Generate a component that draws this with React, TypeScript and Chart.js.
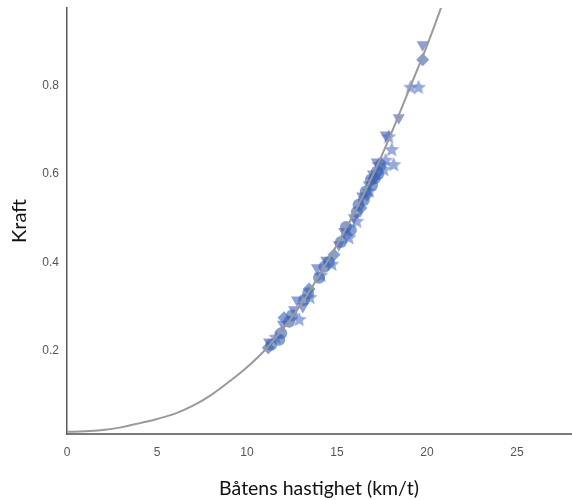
import React, { useEffect, useRef } from "react";
import { Chart, registerables } from "chart.js";

Chart.register(...registerables);

// Fitted curve
const curveV = [0, 1, 2, 3, 4, 5, 6, 7, 8, 9, 10, 11, 12, 13, 14, 15, 16, 17, 18, 19, 20, 21];
const curveF = [0.017, 0.018, 0.021, 0.027, 0.036, 0.046, 0.058, 0.076, 0.1, 0.13, 0.163, 0.202, 0.25, 0.305, 0.37, 0.44, 0.515, 0.598, 0.69, 0.79, 0.89, 1.0];

// Measurements, by marker type
const circleV = [11.35, 11.79, 12.34, 13.17, 14.0, 14.55, 15.22, 15.77, 16.1, 16.49, 16.88, 17.21, 17.43, 16.6, 16.95, 17.1, 17.3, 16.2, 15.5, 14.3, 13.4, 12.5, 11.9];
const circleF = [0.214, 0.225, 0.266, 0.315, 0.365, 0.401, 0.446, 0.473, 0.514, 0.541, 0.587, 0.605, 0.62, 0.56, 0.575, 0.59, 0.6, 0.53, 0.48, 0.39, 0.33, 0.28, 0.24];

const triV = [11.23, 12.78, 12.62, 13.89, 15.1, 15.94, 16.77, 17.21, 17.71, 18.43, 19.76, 12.0, 13.1, 14.4, 15.4, 16.4, 17.0];
const triF = [0.22, 0.315, 0.293, 0.388, 0.44, 0.501, 0.575, 0.627, 0.688, 0.727, 0.892, 0.26, 0.3, 0.405, 0.47, 0.55, 0.6];

const starV = [12.9, 14.11, 14.72, 15.66, 16.1, 17.32, 17.6, 18.04, 18.15, 19.09, 19.53, 17.87, 11.6, 13.5, 16.8, 17.7];
const starF = [0.27, 0.37, 0.395, 0.455, 0.492, 0.62, 0.609, 0.654, 0.62, 0.795, 0.795, 0.683, 0.23, 0.32, 0.56, 0.63];

const squareV = [11.18, 12.06, 13.45, 14.83, 15.55, 16.33, 16.66, 17.04, 19.76];
const squareF = [0.207, 0.275, 0.34, 0.417, 0.462, 0.523, 0.552, 0.59, 0.858];

const xTicks = [0, 5, 10, 15, 20, 25];
const yTicks = [0.2, 0.4, 0.6, 0.8];

const xTitle = "Båtens hastighet (km/t)";
const yTitle = "Kraft";

const pts = (xs: number[], ys: number[]) => xs.map((x, i) => ({ x, y: ys[i] }));

function makeStar(size: number, color: string) {
  const c = document.createElement("canvas");
  c.width = size;
  c.height = size;
  const ctx = c.getContext("2d")!;
  const cx = size / 2, cy = size / 2, R = size / 2, r = R * 0.45;
  ctx.beginPath();
  for (let i = 0; i < 10; i++) {
    const a = -Math.PI / 2 + (i * Math.PI) / 5;
    const rr = i % 2 === 0 ? R : r;
    const px = cx + rr * Math.cos(a), py = cy + rr * Math.sin(a);
    if (i === 0) ctx.moveTo(px, py);
    else ctx.lineTo(px, py);
  }
  ctx.closePath();
  ctx.fillStyle = color;
  ctx.fill();
  return c;
}

export default function App() {
  const ref = useRef<HTMLCanvasElement | null>(null);
  useEffect(() => {
    if (!ref.current) return;
    const blue = "rgba(58,100,182,0.62)";
    const star = makeStar(16, "rgba(95,125,200,0.65)");
    const chart = new Chart(ref.current, {
      type: "scatter",
      data: {
        datasets: [
          {
            type: "line",
            data: pts(curveV, curveF),
            borderColor: "#9a9a9a",
            borderWidth: 2,
            pointRadius: 0,
            cubicInterpolationMode: "monotone",
            fill: false,
            order: 0,
          } as any,
          { data: pts(circleV, circleF), pointStyle: "circle", pointRadius: 6, backgroundColor: blue, borderWidth: 0, order: 1 },
          { data: pts(triV, triF), pointStyle: "triangle", rotation: 180, pointRadius: 7, backgroundColor: "rgba(75,100,185,0.62)", borderWidth: 0, order: 1 } as any,
          { data: pts(starV, starF), pointStyle: star, pointRadius: 8, backgroundColor: blue, borderWidth: 0, order: 1 } as any,
          { data: pts(squareV, squareF), pointStyle: "rectRot", pointRadius: 6.5, backgroundColor: blue, borderWidth: 0, order: 1 },
        ],
      },
      options: {
        animation: false,
        responsive: false,
        layout: { autoPadding: false, padding: { left: 0, right: 1, top: 8, bottom: 0 } },
        plugins: { legend: { display: false }, tooltip: { enabled: false } },
        scales: {
          x: {
            type: "linear",
            min: 0,
            max: 28,
            afterBuildTicks: (axis: any) => {
              axis.ticks = xTicks.map((v) => ({ value: v }));
            },
            afterFit: (axis: any) => {
              axis.height = 66;
              axis.paddingLeft = 0;
              axis.paddingRight = 0;
            },
            grid: { display: false, drawTicks: false },
            border: { display: true, color: "#7a7a7a", width: 2 },
            ticks: {
              padding: 11,
              color: "#555",
              font: { family: "'Liberation Sans', Arial, sans-serif", size: 12 },
            },
            title: {
              display: true,
              text: xTitle,
              color: "#111",
              font: { family: "Lato, 'Open Sans', sans-serif", size: 19.5 },
              padding: { top: 0, bottom: 0 },
            },
          },
          y: {
            type: "linear",
            min: 0.012,
            max: 0.975,
            afterBuildTicks: (axis: any) => {
              axis.ticks = yTicks.map((v) => ({ value: v }));
            },
            afterFit: (axis: any) => {
              axis.width = 67;
              axis.paddingTop = 0;
              axis.paddingBottom = 0;
            },
            grid: { display: false, drawTicks: false },
            border: { display: true, color: "#5a5a5a", width: 1.5 },
            ticks: {
              padding: 8,
              color: "#555",
              font: { family: "'Liberation Sans', Arial, sans-serif", size: 12 },
              callback: (v: any) => String(v),
            },
            title: {
              display: true,
              text: yTitle,
              color: "#111",
              font: { family: "Lato, 'Open Sans', sans-serif", size: 20 },
              padding: { top: 8, bottom: 0 },
            },
          },
        },
      },
    });
    return () => chart.destroy();
  }, []);
  return (
    <div style={{ position: "absolute", left: 0, top: 0, width: 572, height: 500, background: "#fff" }}>
      <canvas ref={ref} width={572} height={500} />
    </div>
  );
}
